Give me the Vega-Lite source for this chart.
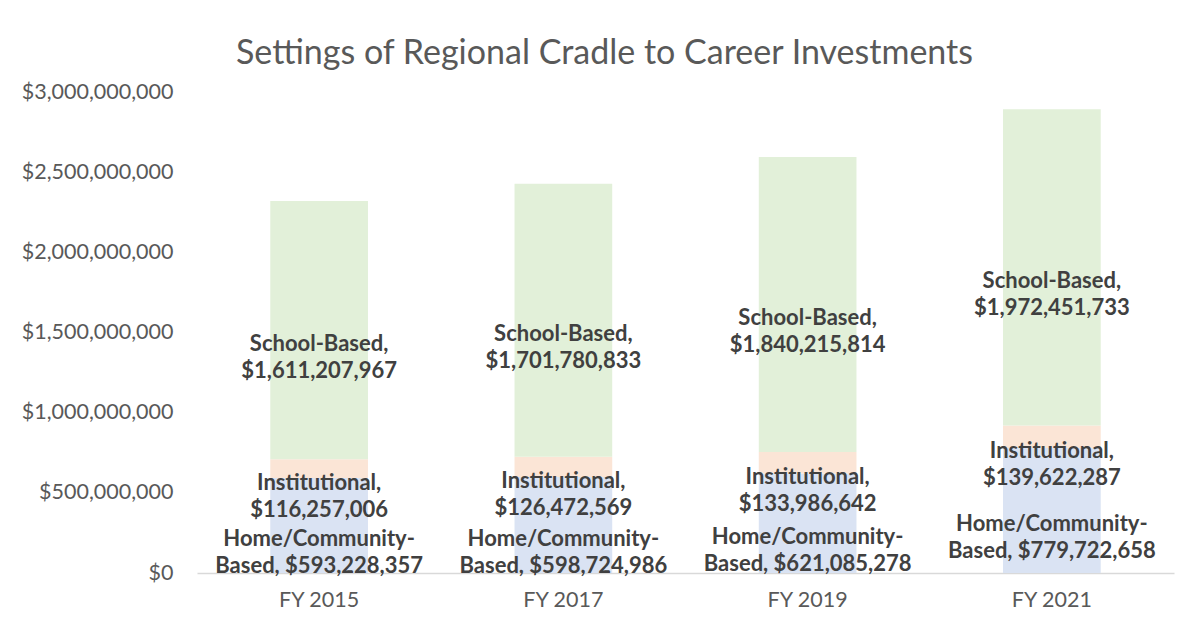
{
  "$schema": "https://vega.github.io/schema/vega-lite/v6.json",
  "width": 977,
  "height": 481,
  "autosize": {"type": "none"},
  "padding": {"left": 197, "top": 92, "right": 19, "bottom": 67},
  "background": "white",
  "config": {"view": {"stroke": null}, "font": "Lato"},
  "title": {
    "text": "Settings of Regional Cradle to Career Investments",
    "font": "Lato",
    "fontSize": 34,
    "fontWeight": "normal",
    "color": "#595959",
    "anchor": "middle",
    "frame": "group",
    "dx": -81,
    "offset": 10
  },
  "data": {
    "values": [
      {"year": "FY 2015", "setting": "Home/Community-Based", "value": 593228357},
      {"year": "FY 2015", "setting": "Institutional", "value": 116257006},
      {"year": "FY 2015", "setting": "School-Based", "value": 1611207967},
      {"year": "FY 2017", "setting": "Home/Community-Based", "value": 598724986},
      {"year": "FY 2017", "setting": "Institutional", "value": 126472569},
      {"year": "FY 2017", "setting": "School-Based", "value": 1701780833},
      {"year": "FY 2019", "setting": "Home/Community-Based", "value": 621085278},
      {"year": "FY 2019", "setting": "Institutional", "value": 133986642},
      {"year": "FY 2019", "setting": "School-Based", "value": 1840215814},
      {"year": "FY 2021", "setting": "Home/Community-Based", "value": 779722658},
      {"year": "FY 2021", "setting": "Institutional", "value": 139622287},
      {"year": "FY 2021", "setting": "School-Based", "value": 1972451733}
    ]
  },
  "transform": [
    {"stack": "value", "groupby": ["year"], "sort": [{"field": "setting", "order": "ascending"}], "as": ["v0", "v1"]},
    {"calculate": "(datum.v0 + datum.v1) / 2", "as": "mid"},
    {"calculate": "datum.setting === 'Home/Community-Based' ? ['Home/Community-', 'Based, ' + format(datum.value, '$,')] : [datum.setting + ',', format(datum.value, '$,')]", "as": "label"}
  ],
  "layer": [
    {
      "mark": {"type": "bar"},
      "encoding": {
        "x": {
          "field": "year",
          "type": "nominal",
          "scale": {"paddingInner": 0.6, "paddingOuter": 0.3},
          "axis": {
            "title": null,
            "labelAngle": 0,
            "labelFontSize": 21.5,
            "labelColor": "#595959",
            "labelPadding": 16,
            "ticks": false,
            "domainColor": "#D9D9D9",
            "domainWidth": 1.5
          }
        },
        "y": {
          "field": "v0",
          "type": "quantitative",
          "scale": {"domain": [0, 3000000000]},
          "axis": {
            "title": null,
            "values": [0, 500000000, 1000000000, 1500000000, 2000000000, 2500000000, 3000000000],
            "format": "$,.0f",
            "labelFontSize": 21.5,
            "labelColor": "#595959",
            "labelPadding": 24,
            "ticks": false,
            "domain": false,
            "grid": false
          }
        },
        "y2": {"field": "v1"},
        "color": {
          "field": "setting",
          "type": "nominal",
          "scale": {
            "domain": ["Home/Community-Based", "Institutional", "School-Based"],
            "range": ["#DAE3F3", "#FBE5D6", "#E2F0D9"]
          },
          "legend": null
        }
      }
    },
    {
      "mark": {
        "type": "text",
        "font": "Lato",
        "fontWeight": "bold",
        "fontSize": 22,
        "color": "#404040",
        "lineHeight": 27,
        "baseline": "middle",
        "align": "center",
        "dy": 14
      },
      "encoding": {
        "x": {"field": "year", "type": "nominal"},
        "y": {"field": "mid", "type": "quantitative"},
        "text": {"field": "label"}
      }
    }
  ]
}
